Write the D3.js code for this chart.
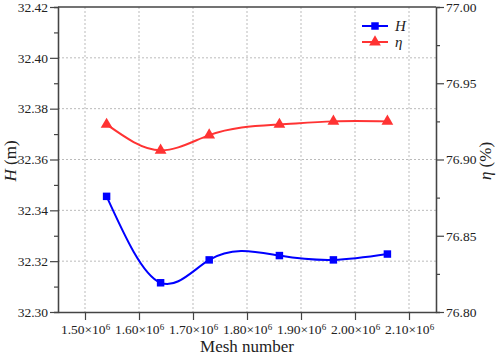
<!DOCTYPE html>
<html>
<script src="https://d3js.org/d3.v7.min.js"></script>

<head>
    <style>
        body {
            margin: 0;
            background-color: white;
        }

        svg {
            display: block;
            font-family: "Liberation Serif", "Times New Roman", serif;
        }
    </style>
</head>

<body>
</body>
<script>
    const width = 498,
        height = 356;
    const svg = d3.select("body").append("svg").attr("width", width).attr("height", height);

    // data
    const mesh = [1.54e6, 1.64e6, 1.73e6, 1.86e6, 1.96e6, 2.06e6];
    const head = [32.3455, 32.3115, 32.3205, 32.3222, 32.3205, 32.3228];
    const eff = [76.923, 76.906, 76.916, 76.923, 76.925, 76.925];
    const xTicks = [1.5e6, 1.6e6, 1.7e6, 1.8e6, 1.9e6, 2.0e6, 2.1e6];
    const hTicks = [32.30, 32.32, 32.34, 32.36, 32.38, 32.40, 32.42];
    const hMinor = [32.31, 32.33, 32.35, 32.37, 32.39, 32.41];
    const eTicks = [76.80, 76.85, 76.90, 76.95, 77.00];
    const eMinor = [76.825, 76.875, 76.925, 76.975];

    const mLeft = 58, mRight = 436, mTop = 7, mBottom = 312;
    const axisColor = "#444";

    const x = d3.scaleLinear().domain([1.45e6, 2.15e6]).range([mLeft, mRight]);
    const yH = d3.scaleLinear().domain([32.30, 32.42]).range([mBottom, mTop]);
    const yE = d3.scaleLinear().domain([76.80, 77.00]).range([mBottom, mTop]);

    // natural cubic spline as a function of x (like the plotting program's spline)
    function curveSplineX(context) {
        let pts;
        return {
            areaStart() {},
            areaEnd() {},
            lineStart() { pts = []; },
            point(px, py) { pts.push([+px, +py]); },
            lineEnd() {
                const n = pts.length;
                if (!n) return;
                context.moveTo(pts[0][0], pts[0][1]);
                if (n < 3) {
                    for (let i = 1; i < n; i++) context.lineTo(pts[i][0], pts[i][1]);
                    return;
                }
                const h = [], M = new Array(n).fill(0);
                for (let i = 0; i < n - 1; i++) h.push(pts[i + 1][0] - pts[i][0]);
                // tridiagonal solve for second derivatives
                const a = [], b = [], c = [], r = [];
                for (let i = 1; i < n - 1; i++) {
                    a.push(h[i - 1]);
                    b.push(2 * (h[i - 1] + h[i]));
                    c.push(h[i]);
                    r.push(6 * ((pts[i + 1][1] - pts[i][1]) / h[i] - (pts[i][1] - pts[i - 1][1]) / h[i - 1]));
                }
                const m = b.length;
                for (let i = 1; i < m; i++) {
                    const w = a[i] / b[i - 1];
                    b[i] -= w * c[i - 1];
                    r[i] -= w * r[i - 1];
                }
                M[m] = r[m - 1] / b[m - 1];
                for (let i = m - 2; i >= 0; i--) M[i + 1] = (r[i] - c[i] * M[i + 2]) / b[i];
                for (let i = 0; i < n - 1; i++) {
                    const [x0, y0] = pts[i], [x1, y1] = pts[i + 1], hi = h[i];
                    const d = (y1 - y0) / hi;
                    const s0 = d - hi * (2 * M[i] + M[i + 1]) / 6;
                    const s1 = d + hi * (M[i] + 2 * M[i + 1]) / 6;
                    context.bezierCurveTo(x0 + hi / 3, y0 + s0 * hi / 3, x1 - hi / 3, y1 - s1 * hi / 3, x1, y1);
                }
            }
        };
    }

    // grid
    svg.append("g")
        .selectAll("line")
        .data(xTicks)
        .join("line")
        .attr("x1", d => x(d)).attr("x2", d => x(d))
        .attr("y1", mTop).attr("y2", mBottom)
        .attr("stroke", "#bbb")
        .attr("stroke-dasharray", "2,2");
    svg.append("g")
        .selectAll("line")
        .data(hTicks.slice(1, -1))
        .join("line")
        .attr("x1", mLeft).attr("x2", mRight)
        .attr("y1", d => yH(d)).attr("y2", d => yH(d))
        .attr("stroke", "#bbb")
        .attr("stroke-dasharray", "2,2");

    function styleAxis(g) {
        g.attr("font-family", null);
        g.select(".domain").attr("stroke", axisColor).attr("stroke-width", 1.3);
        g.selectAll(".tick line").attr("stroke", axisColor).attr("stroke-width", 1.2);
        g.selectAll(".tick text").attr("fill", "#222").attr("font-size", 13.5);
    }

    // bottom axis
    const gx = svg.append("g")
        .attr("transform", `translate(0,${mBottom})`)
        .call(d3.axisBottom(x).tickValues(xTicks).tickSize(8).tickPadding(4).tickSizeOuter(0))
        .call(styleAxis);
    gx.selectAll(".tick text").each(function (d) {
        const t = d3.select(this).text("");
        t.append("tspan").text((d / 1e6).toFixed(2) + "×10");
        t.append("tspan").attr("font-size", 9).attr("dy", "-0.45em").text("6");
    });

    // top frame
    svg.append("line")
        .attr("x1", mLeft).attr("x2", mRight)
        .attr("y1", mTop).attr("y2", mTop)
        .attr("stroke", axisColor).attr("stroke-width", 1.3);

    // left axis
    svg.append("g")
        .attr("transform", `translate(${mLeft},0)`)
        .call(d3.axisLeft(yH).tickValues(hMinor).tickSize(4).tickFormat(""))
        .call(styleAxis);
    svg.append("g")
        .attr("transform", `translate(${mLeft},0)`)
        .call(d3.axisLeft(yH).tickValues(hTicks).tickSize(8).tickPadding(2).tickSizeOuter(0)
            .tickFormat(d3.format(".2f")))
        .call(styleAxis);

    // right axis
    svg.append("g")
        .attr("transform", `translate(${mRight},0)`)
        .call(d3.axisRight(yE).tickValues(eMinor).tickSize(4).tickFormat(""))
        .call(styleAxis);
    svg.append("g")
        .attr("transform", `translate(${mRight},0)`)
        .call(d3.axisRight(yE).tickValues(eTicks).tickSize(8).tickPadding(2).tickSizeOuter(0)
            .tickFormat(d3.format(".2f")))
        .call(styleAxis);

    // axis titles
    const hTitle = svg.append("text")
        .attr("transform", `translate(16,161) rotate(-90)`)
        .attr("text-anchor", "middle")
        .attr("font-size", 17)
        .attr("fill", "#222");
    hTitle.append("tspan").attr("font-style", "italic").text("H");
    hTitle.append("tspan").text(" (m)");

    const eTitle = svg.append("text")
        .attr("transform", `translate(491,161) rotate(-90)`)
        .attr("text-anchor", "middle")
        .attr("font-size", 17)
        .attr("fill", "#222");
    eTitle.append("tspan").attr("font-style", "italic").text("η");
    eTitle.append("tspan").text(" (%)");

    svg.append("text")
        .attr("x", (mLeft + mRight) / 2)
        .attr("y", 352)
        .attr("text-anchor", "middle")
        .attr("font-size", 17)
        .attr("fill", "#222")
        .text("Mesh number");

    // series
    const blue = "#0000ff", red = "#ff3333";
    const hData = mesh.map((m, i) => [m, head[i]]);
    const eData = mesh.map((m, i) => [m, eff[i]]);

    svg.append("path")
        .datum(eData)
        .attr("fill", "none")
        .attr("stroke", red)
        .attr("stroke-width", 2)
        .attr("d", d3.line().x(d => x(d[0])).y(d => yE(d[1])).curve(curveSplineX));
    svg.append("path")
        .datum(hData)
        .attr("fill", "none")
        .attr("stroke", blue)
        .attr("stroke-width", 2)
        .attr("d", d3.line().x(d => x(d[0])).y(d => yH(d[1])).curve(curveSplineX));

    const tri = d3.symbol().type(d3.symbolTriangle).size(60);
    const sq = d3.symbol().type(d3.symbolSquare).size(56);

    svg.append("g")
        .selectAll("path")
        .data(eData)
        .join("path")
        .attr("transform", d => `translate(${x(d[0])},${yE(d[1])})`)
        .attr("d", tri)
        .attr("fill", red);
    svg.append("g")
        .selectAll("path")
        .data(hData)
        .join("path")
        .attr("transform", d => `translate(${x(d[0])},${yH(d[1])})`)
        .attr("d", sq)
        .attr("fill", blue);

    // legend
    const legend = [
        { label: "H", color: blue, sym: sq },
        { label: "η", color: red, sym: tri }
    ];
    legend.forEach((d, i) => {
        const ly = 26 + i * 16;
        svg.append("line")
            .attr("x1", 362).attr("x2", 388)
            .attr("y1", ly).attr("y2", ly)
            .attr("stroke", d.color).attr("stroke-width", 2);
        svg.append("path")
            .attr("transform", `translate(375,${ly})`)
            .attr("d", d.sym)
            .attr("fill", d.color);
        svg.append("text")
            .attr("x", 395)
            .attr("y", ly)
            .attr("dy", "0.35em")
            .attr("font-size", 15)
            .attr("font-style", "italic")
            .attr("fill", "#222")
            .text(d.label);
    });
</script>

</html>
